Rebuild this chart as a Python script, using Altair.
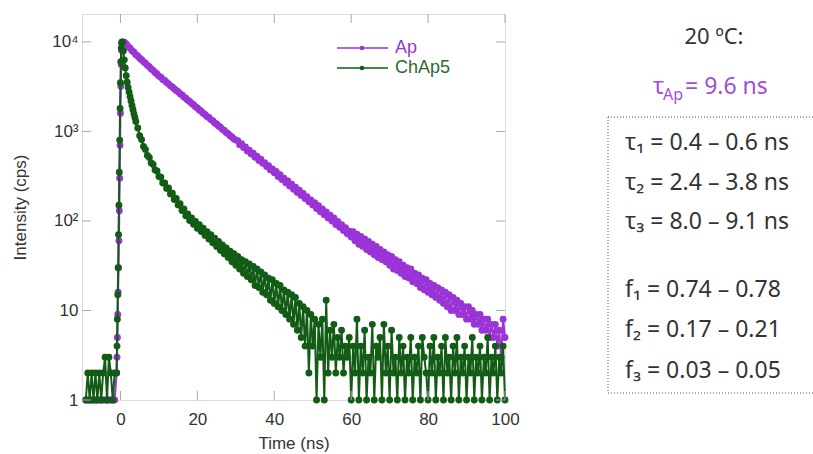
import altair as alt
import pandas as pd

# ---------------- data ----------------
series_names = ["Ap", "ChAp5"]

# Ap: baseline before the pulse (t = -9 .. -1.5, step 0.5)
ap_pre_start = -9.0
ap_pre = [1, 1, 1, 1, 1, 1, 1, 1, 1, 1, 1, 1, 1, 1, 1, 1]
# Ap: rising edge (t = -1.0 .. 0.5, step 0.1)
ap_rise_start = -1.0
ap_rise = [2, 3, 5, 9, 16, 30, 60, 130, 300, 700, 1600, 3200, 5600, 8000, 9500, 10000]
# Ap: decay (t = 1.0 .. 100, step 0.5)
ap_decay_start = 1.0
ap_decay = [
    9950, 9480, 8870, 8500, 7990, 7660, 7210, 6950, 6570, 6340, 6000, 5790, 5470, 5280, 4980, 4810, 4550, 4390, 4150,
    4030, 3810, 3700, 3520, 3400, 3230, 3140, 2980, 2860, 2770, 2630, 2550, 2420, 2345, 2230, 2160, 2050, 1990, 1890, 1830,
    1740, 1685, 1600, 1550, 1470, 1430, 1355, 1315, 1245, 1210, 1148, 1112, 1055, 1025, 972, 943, 895, 868, 824, 800,
    790, 712, 728, 660, 672, 604, 618, 560, 572, 515, 528, 474, 488, 441, 448, 405, 414, 372, 381, 346,
    356, 314, 329, 290, 301, 267, 279, 246, 258, 226, 238, 208, 220, 193, 203, 178, 187, 164, 172, 151,
    160, 138, 148, 127, 136, 117, 126, 108, 116, 100, 108, 91, 99, 85, 91, 78, 84, 72, 77, 66,
    76, 60, 71, 55, 67, 52, 63, 48, 59, 45, 55, 42, 52, 39, 48, 37, 45, 35, 42, 32,
    40, 29, 37, 28, 35, 26, 32, 24, 30, 23, 29, 21, 26, 20, 25, 18, 23, 17, 22, 16,
    20, 15, 19, 14, 18, 13, 17, 12, 16, 11, 15, 10, 14, 10, 13, 9, 12, 9, 11, 8,
    11, 8, 10, 7, 9, 7, 9, 6, 8, 6, 8, 5, 7, 5, 7, 4, 6, 3, 8, 5,
]

# ChAp5: baseline before the pulse (t = -9 .. -1.5, step 0.5)
ch_pre_start = -9.0
ch_pre = [1, 2, 1, 2, 1, 2, 1, 2, 1, 2, 3, 1, 3, 2, 1, 2]
# ChAp5: rising edge (t = -1.0 .. 0.3, step 0.1)
ch_rise_start = -1.0
ch_rise = [2, 4, 8, 15, 30, 70, 150, 350, 800, 1800, 3500, 6000, 8500, 9800]
# ChAp5: fast initial decay (t = 0.5 .. 3.75, step 0.25)
ch_fast_start = 0.5
ch_fast = [10000, 7900, 6300, 5100, 4200, 3550, 3100, 2750, 2450, 2190, 1950, 1760, 1580, 1430]
# ChAp5: decay and background (t = 4.0 .. 100, step 0.5)
ch_decay_start = 4.0
ch_decay = [
    1290, 1090, 895, 810, 678, 630, 538, 512, 445, 428, 370, 362, 314, 308, 266, 266, 231, 233, 200, 204,
    174, 178, 151, 156, 131, 136, 114, 120, 101, 108, 92, 99, 83, 91, 76, 83, 69, 76, 63, 70,
    57, 64, 52, 59, 47, 54, 43, 50, 39, 46, 35, 43, 32, 40, 29, 37, 26, 35, 24, 33,
    22, 31, 19, 29, 18, 27, 16, 25, 15, 23, 13, 22, 12, 20, 11, 19, 10, 17, 9, 16,
    8, 15, 7, 14, 6, 12, 5, 11, 4, 10, 2, 9, 4, 8, 1, 7, 3, 8, 1, 13,
    2, 6, 3, 7, 2, 5, 3, 6, 2, 4, 3, 5, 1, 4, 2, 8, 1, 4, 2, 6,
    1, 3, 2, 7, 1, 4, 3, 5, 1, 7, 2, 4, 1, 6, 2, 3, 1, 5, 2, 4,
    1, 3, 2, 5, 1, 3, 2, 4, 1, 5, 3, 2, 1, 4, 2, 5, 1, 3, 2, 4,
    1, 5, 2, 3, 1, 4, 2, 5, 1, 3, 2, 4, 1, 3, 2, 5, 1, 3, 2, 4,
    1, 3, 2, 5, 1, 3, 2, 4, 1, 3, 2, 4, 1,
]

x_ticks = [0, 20, 40, 60, 80, 100]
y_ticks = [1, 10, 100, 1000, 10000]
y_tick_labels = ["1", "10", "10²", "10³", "10⁴"]

panel_heading = "20 ºC:"
tau_ap_symbol = "τ"
tau_ap_sub = "Ap"
tau_ap_value = "= 9.6 ns"
tau_lines = ["τ₁ = 0.4 – 0.6 ns", "τ₂ = 2.4 – 3.8 ns", "τ₃ = 8.0 – 9.1 ns"]
f_lines = ["f₁ = 0.74 – 0.78", "f₂ = 0.17 – 0.21", "f₃ = 0.03 – 0.05"]

# ---------------- build tables ----------------
def segment(start, step, values):
    return [(round(start + step * k, 3), v) for k, v in enumerate(values)]

ap_pts = (segment(ap_pre_start, 0.5, ap_pre) + segment(ap_rise_start, 0.1, ap_rise)
          + segment(ap_decay_start, 0.5, ap_decay))
ch_pts = (segment(ch_pre_start, 0.5, ch_pre) + segment(ch_rise_start, 0.1, ch_rise)
          + segment(ch_fast_start, 0.25, ch_fast) + segment(ch_decay_start, 0.5, ch_decay))

ap_df = pd.DataFrame(ap_pts, columns=["t", "i"]).assign(s=series_names[0])
ch_df = pd.DataFrame(ch_pts, columns=["t", "i"]).assign(s=series_names[1])

PURPLE = "#9B34D6"
GREEN = "#125C16"
FRAME = "#a9a9a9"
TXT = "#333333"
W, H = 423, 386
TICK = 9
PANEL_FONT = "Noto Sans"

label_expr = " : ".join(
    [f"datum.value == {v} ? '{l}'" for v, l in zip(y_ticks[:-1], y_tick_labels[:-1])]
) + f" : '{y_tick_labels[-1]}'"

xscale = alt.Scale(domain=[-10, 100], nice=False, zero=False)
yscale = alt.Scale(type="log", domain=[1, 20500], nice=False)

xenc = alt.X("t:Q", scale=xscale, axis=alt.Axis(
    values=x_ticks, title="Time (ns)", ticks=False, domain=False, grid=False, labelFlush=False,
    labelFontSize=17, titleFontSize=17, labelPadding=11, titlePadding=8,
    labelColor=TXT, titleColor=TXT, labelFont="Liberation Sans", titleFont="Liberation Sans",
    titleFontWeight="normal"))
yenc = alt.Y("i:Q", scale=yscale, axis=alt.Axis(
    values=y_ticks, labelExpr=label_expr, title="Intensity (cps)", ticks=False, domain=False,
    grid=False, labelFlush=False, labelFontSize=17, titleFontSize=17, labelPadding=4, titlePadding=22,
    labelColor=TXT, titleColor=TXT, labelFont="Liberation Sans", titleFont="Liberation Sans",
    titleFontWeight="normal"))


def series_layers(df, color):
    base = alt.Chart(df)
    line = base.mark_line(color=color, strokeWidth=2, interpolate="linear").encode(x=xenc, y=yenc)
    pts = base.mark_circle(color=color, size=48, opacity=1).encode(x=xenc, y=yenc)
    return [line, pts]


xt = pd.DataFrame({"t": x_ticks})
yt = pd.DataFrame({"i": y_ticks})
ticks = [
    alt.Chart(xt).mark_rule(color=FRAME).encode(x=xenc, y=alt.value(H), y2=alt.value(H - TICK)),
    alt.Chart(xt).mark_rule(color=FRAME).encode(x=xenc, y=alt.value(0), y2=alt.value(TICK)),
    alt.Chart(yt).mark_rule(color=FRAME).encode(y=yenc, x=alt.value(0), x2=alt.value(TICK)),
    alt.Chart(yt).mark_rule(color=FRAME).encode(y=yenc, x=alt.value(W - TICK), x2=alt.value(W)),
]

one = pd.DataFrame({"a": [0]})


def txt(text, x, y, size, color, align="left", font=PANEL_FONT, baseline="middle"):
    return alt.Chart(one).mark_text(
        text=text, align=align, baseline=baseline, fontSize=size, color=color, font=font
    ).encode(x=alt.value(x), y=alt.value(y))


def hrule(x1, x2, y, color, dash=None, width=1.0):
    kw = dict(color=color, strokeWidth=width)
    if dash:
        kw["strokeDash"] = dash
    return alt.Chart(one).mark_rule(**kw).encode(x=alt.value(x1), x2=alt.value(x2), y=alt.value(y))


def vrule(x, y1, y2, color, dash=None):
    kw = dict(color=color, strokeWidth=1)
    if dash:
        kw["strokeDash"] = dash
    return alt.Chart(one).mark_rule(**kw).encode(x=alt.value(x), y=alt.value(y1), y2=alt.value(y2))


def legend_dot(x, y, color):
    return alt.Chart(one).mark_circle(color=color, size=22, opacity=1).encode(
        x=alt.value(x), y=alt.value(y))


legend = [
    hrule(255, 306, 34, PURPLE, width=1.5), legend_dot(280, 34, PURPLE),
    txt(series_names[0], 313, 34, 18, PURPLE, font="Liberation Sans"),
    hrule(255, 306, 54, GREEN, width=1.5), legend_dot(280, 54, GREEN),
    txt(series_names[1], 313, 54, 18, "#2C6A30", font="Liberation Sans"),
]

panel = [
    txt(panel_heading, 632, 23, 22, TXT, align="center"),
    txt(tau_ap_symbol, 571, 73, 23, "#A050D8"),
    txt(tau_ap_sub, 581, 81, 16, "#A050D8"),
    txt(tau_ap_value, 603, 73, 23, "#A050D8"),
    hrule(526, 731, 103, "#555555", dash=[1, 2]),
    vrule(526, 103, 379, "#555555", dash=[1, 2]),
    hrule(526, 731, 379, "#555555", dash=[1, 2]),
]
for k, s in enumerate(tau_lines):
    panel.append(txt(s, 543, [129, 169, 208][k], 23, TXT))
for k, s in enumerate(f_lines):
    panel.append(txt(s, 543, [276, 316, 357][k], 23, TXT))

layers = series_layers(ap_df, PURPLE) + series_layers(ch_df, GREEN) + ticks + legend + panel

chart = alt.layer(*layers).properties(
    width=W, height=H,
    autosize=alt.AutoSizeParams(type="none"),
    padding={"left": 82, "top": 14, "right": 308, "bottom": 54},
).configure_view(stroke=FRAME, strokeWidth=1).configure(background="white")

chart.save("out.html", embed_options={"renderer": "svg", "actions": False})
